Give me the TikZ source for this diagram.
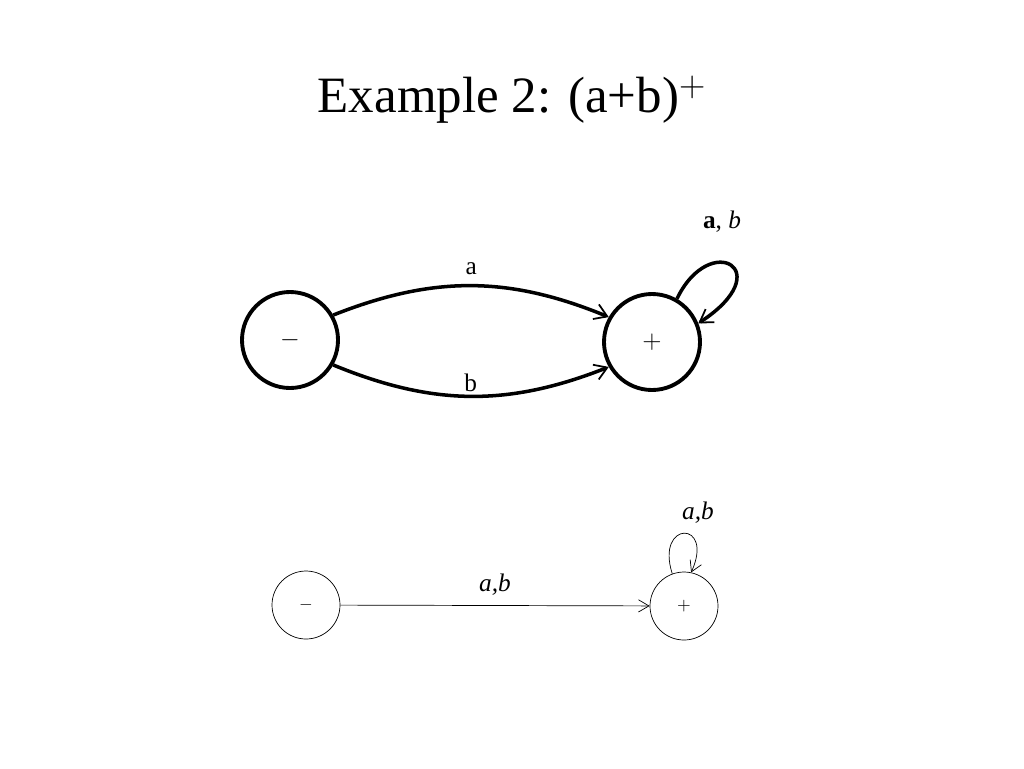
\documentclass[tikz,border=0pt]{standalone}
\usepackage{fontspec}
\setmainfont{Liberation Serif}
\usetikzlibrary{arrows.meta}
\tikzset{
	bigstate/.style={circle, draw, line width=2.2pt, minimum size=96*0.02cm, inner sep=0pt},
	smallstate/.style={circle, draw, thin, minimum size=68*0.02cm, inner sep=0pt},
	bigedge/.style={line width=2pt, -{Straight Barb[length=7pt,width=9pt,line width=1pt]}},
	smalledge/.style={thin, -{Straight Barb[length=6pt,width=7pt]}}
}
\begin{document}
\begin{tikzpicture}[x=0.02cm, y=-0.02cm]
		\useasboundingbox (0,0) rectangle (1024,768);
		%title
		\node (title) at (512,100) {\fontsize{29}{34}\selectfont Example 2: (a+b)$^{+}$};
		
		%upper automaton
		\node[bigstate] (minus) at (290,340) {\Large $-$};
		\node[bigstate] (plus) at (652,342) {\Large $+$};
		\draw[bigedge] (minus.30) to[bend left=22] node[above=2pt] {\Large a} (plus.150);
		\draw[bigedge] (minus.-30) to[bend right=22] node[above=-2pt] {\Large b} (plus.-150);
		\draw[bigedge] (plus.60) .. controls (710,230) and (780,270) .. (plus.22);
		\node (loopab) at (722,222) {\Large \textbf{a}, \textit{b}};
		
		%lower automaton
		\node[smallstate] (start) at (306,605) {$-$};
		\node[smallstate] (final) at (684,606) {$+$};
		\draw[smalledge] (start) -- node[above=2pt] {\Large\textit{a,b}} (final);
		\draw[smalledge] (final.110) .. controls (655,520) and (715,520) .. (final.78);
		\node (loopsmall) at (698,513) {\Large\textit{a,b}};
\end{tikzpicture}
\end{document}
